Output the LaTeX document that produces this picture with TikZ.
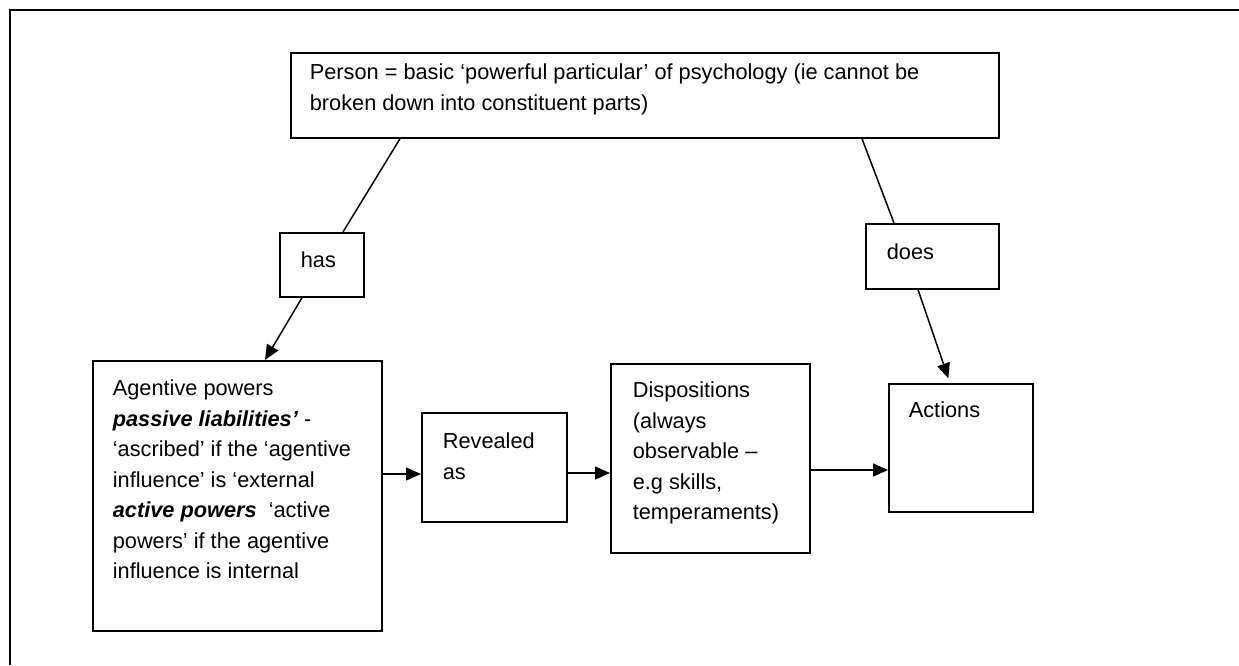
\documentclass[tikz,border=0pt]{standalone}
\usepackage{fontspec}
\setmainfont{Liberation Sans}
\usetikzlibrary{arrows.meta}

% Box contents: width, height, gap above first line, left padding, text
\newcommand\boxtext[5]{%
  \parbox[c][#2][t]{#1}{\vspace*{#3}\raggedright\leftskip=#4\relax\parindent=0pt
    \fontsize{21.75pt}{30.5pt}\selectfont\rule{0pt}{20pt}#5}}

\tikzset{
  box/.style={draw, line width=1.7pt, inner sep=0pt, anchor=north west},
  link/.style={line width=1.5pt},
  arr/.style={link, -{Triangle[length=15pt,width=13pt]}},
  frame/.style={line width=2.6pt},
}

\begin{document}
\begin{tikzpicture}[x=1pt,y=-1pt]
\useasboundingbox (0,0) rectangle (1239,665);

% page frame
\draw[frame] (10,665) -- (10,10) -- (1239,10);

% boxes
\node[box] (person) at (290,52)
  {\boxtext{708pt}{85pt}{7pt}{19pt}{Person = basic ‘powerful particular’ of psychology (ie cannot be\\broken down into constituent parts)}};
\node[box] (has) at (279,232)
  {\boxtext{84pt}{64pt}{15pt}{21pt}{has}};
\node[box] (does) at (865,223)
  {\boxtext{133pt}{65pt}{16pt}{21pt}{does}};
\node[box] (agent) at (92,360)
  {\boxtext{289pt}{270pt}{15pt}{20pt}{Agentive powers\\
   \textbf{\textit{passive liabilities’}} -\\
   ‘ascribed’ if the ‘agentive\\
   influence’ is ‘external\\
   \textbf{\textit{active powers}}\ \ ‘active\\
   powers’ if the agentive\\
   influence is internal}};
\node[box] (reveal) at (421,412)
  {\boxtext{145pt}{109pt}{16pt}{21pt}{Revealed\\as}};
\node[box] (dispo) at (610,363)
  {\boxtext{199pt}{189pt}{14pt}{22pt}{Dispositions\\(always\\observable –\\e.g skills,\\temperaments)}};
\node[box] (actions) at (888,383)
  {\boxtext{144pt}{128pt}{14pt}{20pt}{Actions}};

% connectors
\draw[link] ([xshift=110pt]person.south west) -- ([xshift=64pt]has.north west);
\draw[arr] ([xshift=23pt]has.south west) -- ([xshift=173pt]agent.north west);
\draw[link] ([xshift=572pt]person.south west) -- ([xshift=29pt]does.north west);
\draw[arr, shorten >=5pt] ([xshift=53pt]does.south west) -- ([xshift=62pt]actions.north west);
\draw[arr] ([yshift=-114pt]agent.north east) -- ([yshift=-62pt]reveal.north west);
\draw[arr] ([yshift=-61pt]reveal.north east) -- ([yshift=-110pt]dispo.north west);
\draw[arr] ([yshift=-107pt]dispo.north east) -- ([yshift=-87pt]actions.north west);
\end{tikzpicture}
\end{document}
